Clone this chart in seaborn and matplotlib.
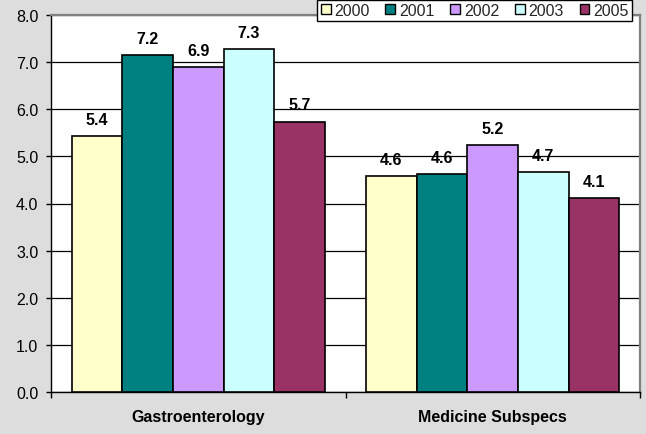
import matplotlib
matplotlib.use("Agg")
import matplotlib.pyplot as plt
import seaborn as sns
import pandas as pd
from matplotlib.patches import Patch

# Data
categories = ["Gastroenterology", "Medicine Subspecs"]
years = ["2000", "2001", "2002", "2003", "2005"]
gastro = [5.43, 7.15, 6.89, 7.28, 5.74]
medicine = [4.59, 4.62, 5.24, 4.66, 4.12]
colors = ["#FFFFCC", "#008080", "#CC99FF", "#CCFFFF", "#993366"]
yticks = [0, 1, 2, 3, 4, 5, 6, 7, 8]

rows = []
for cat, vals in zip(categories, [gastro, medicine]):
    for yr, v in zip(years, vals):
        rows.append({"category": cat, "year": yr, "value": v})
df = pd.DataFrame(rows)

sns.set_theme(style="white")
plt.rcParams["font.family"] = ["Liberation Sans", "DejaVu Sans"]

FS = 11.5
W, H = 646, 435
fig = plt.figure(figsize=(W / 100, H / 100), dpi=100)
fig.patch.set_facecolor("#DDDDDD")
ax = fig.add_axes([51 / W, (H - 393) / H, (640 - 51) / W, (393 - 16) / H])
ax.set_facecolor("white")

sns.barplot(data=df, x="category", y="value", hue="year", hue_order=years,
            order=categories, palette=colors, width=0.86, edgecolor="black",
            linewidth=1.2, saturation=1, ax=ax, legend=False, zorder=3)

for cont in ax.containers:
    ax.bar_label(cont, fmt="%.1f", padding=6.5, fontsize=FS, fontweight="bold",
                 color="black", zorder=4)

ax.set_xlim(-0.5, 1.5)
ax.set_ylim(0, 8)
ax.set_yticks(yticks)
ax.set_yticklabels([f"{t:.1f}" for t in yticks], fontsize=FS, color="black")
ax.yaxis.grid(True, color="black", linewidth=0.9, zorder=0)
ax.set_axisbelow(True)

# group boundary ticks on x, category labels centered without ticks
ax.set_xticks([-0.5, 0.5, 1.5])
ax.set_xticklabels(["", "", ""])
ax.set_xticks([0, 1], minor=True)
ax.set_xticklabels(categories, minor=True, fontsize=FS, fontweight="bold",
                   color="black")
ax.tick_params(axis="x", which="minor", length=0, pad=12)
ax.tick_params(axis="x", which="major", length=4.3, width=1, color="black",
               direction="out", bottom=True)
ax.tick_params(axis="y", length=3.6, width=1, color="black", direction="out",
               left=True, pad=5.5)
ax.set_xlabel("")
ax.set_ylabel("")

for side in ["left", "bottom"]:
    ax.spines[side].set_color("black")
    ax.spines[side].set_linewidth(1.0)
for side in ["top", "right"]:
    ax.spines[side].set_color("#808080")
    ax.spines[side].set_linewidth(1.6)

handles = [Patch(facecolor=c, edgecolor="black", linewidth=1.0, label=y)
           for c, y in zip(colors, years)]
leg = fig.legend(handles=handles, loc="upper right", ncol=5,
                 bbox_to_anchor=(632 / W, 1 - 0.5 / H), fontsize=FS,
                 frameon=True, fancybox=False, borderaxespad=0,
                 handlelength=0.62, handleheight=0.62, handletextpad=0.25,
                 columnspacing=0.97, borderpad=0.2)
leg.get_frame().set_edgecolor("black")
leg.get_frame().set_linewidth(1.0)
leg.get_frame().set_facecolor("white")
leg.get_frame().set_alpha(1)

fig.savefig("out.png", dpi=100, facecolor=fig.get_facecolor())
